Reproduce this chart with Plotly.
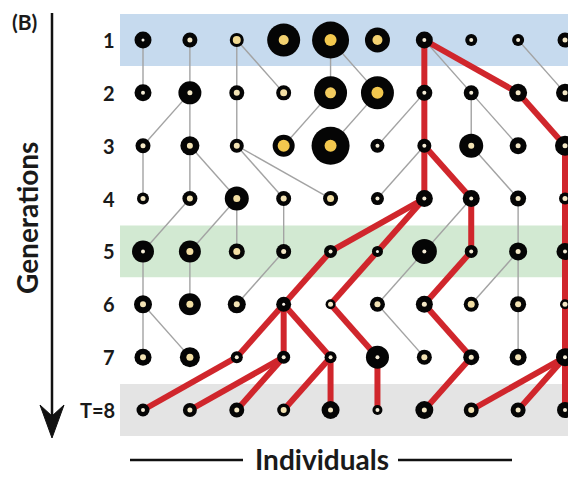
import plotly.graph_objects as go

# ---------------- data ----------------
generations = [1, 2, 3, 4, 5, 6, 7, 8]
gen_labels = ["1", "2", "3", "4", "5", "6", "7", "T=8"]
individuals = [1, 2, 3, 4, 5, 6, 7, 8, 9, 10]

# parent (individual index in previous generation) of each individual, per generation
parents_g2 = [1, 2, 3, 3, 5, 5, 7, 7, 7, 9]
parents_g3 = [2, 2, 3, 5, 6, 7, 7, 8, 8, 9]
parents_g4 = [1, 2, 2, 3, 3, 7, 7, 7, 8, 10]
parents_g5 = [2, 3, 3, 4, 7, 7, 8, 8, 9, 10]
parents_g6 = [1, 2, 4, 5, 6, 7, 8, 9, 9, 10]
parents_g7 = [1, 1, 4, 4, 4, 5, 6, 7, 9, 10]
parents_g8 = [3, 4, 4, 5, 5, 6, 8, 10, 10, 10]
parents = [parents_g2, parents_g3, parents_g4, parents_g5, parents_g6, parents_g7, parents_g8]

# outer (black) circle size per generation row
outer_g1 = [17, 15, 14, 33, 37, 25, 17, 12, 12, 15]
outer_g2 = [17, 23, 15, 15, 33, 33, 16, 15, 18, 18]
outer_g3 = [15, 19, 14, 22, 38, 14, 14, 24, 17, 20]
outer_g4 = [12, 15, 24, 15, 15, 13, 17, 17, 16, 12]
outer_g5 = [22, 22, 16, 15, 13, 11, 25, 13, 18, 17]
outer_g6 = [18, 22, 18, 15, 10, 15, 17, 15, 16, 10]
outer_g7 = [17, 20, 12, 13, 12, 23, 15, 16, 17, 18]
outer_g8 = [13, 14, 15, 13, 18, 10, 18, 15, 15, 16]
outer = [outer_g1, outer_g2, outer_g3, outer_g4, outer_g5, outer_g6, outer_g7, outer_g8]

# inner (yellow) circle size per generation row
inner_g1 = [3, 5, 8, 10, 12, 10, 4, 4, 4, 5]
inner_g2 = [4, 5, 6, 7, 11, 12, 4, 4, 5, 5]
inner_g3 = [5, 6, 6, 12, 12, 4, 4, 6, 5, 5]
inner_g4 = [5, 6, 7, 6, 7, 4, 4, 4, 5, 5]
inner_g5 = [4, 7, 7, 5, 4, 3, 4, 4, 5, 4]
inner_g6 = [6, 7, 6, 3, 5, 6, 5, 7, 6, 5]
inner_g7 = [6, 7, 4, 4, 4, 4, 6, 5, 6, 4]
inner_g8 = [4, 5, 5, 6, 5, 4, 5, 6, 5, 4]
inner = [inner_g1, inner_g2, inner_g3, inner_g4, inner_g5, inner_g6, inner_g7, inner_g8]

highlight_rows = {1: "#c6daee", 5: "#d2e9d2", 8: "#e4e4e4"}

# ---------------- ancestry (red) ----------------
ngen = len(generations)
anc = {ngen: set(individuals)}
for g in range(ngen, 1, -1):
    anc[g - 1] = {parents[g - 2][i - 1] for i in anc[g]}

gx, gy, rx, ry = [], [], [], []
for g in range(2, ngen + 1):
    for i in individuals:
        p = parents[g - 2][i - 1]
        if i in anc[g]:
            rx += [p, i, None]; ry += [g - 1, g, None]
        else:
            gx += [p, i, None]; gy += [g - 1, g, None]

nx, ny, no, ni = [], [], [], []
for g in generations:
    for i in individuals:
        nx.append(i); ny.append(g)
        no.append(outer[g - 1][i - 1]); ni.append(inner[g - 1][i - 1])

fig = go.Figure()
fig.add_trace(go.Scatter(x=gx, y=gy, mode="lines",
                         line=dict(color="#a3a3a3", width=1.4), hoverinfo="skip"))
fig.add_trace(go.Scatter(x=rx, y=ry, mode="lines",
                         line=dict(color="#d0262c", width=6), hoverinfo="skip"))
fig.add_trace(go.Scatter(x=nx, y=ny, mode="markers",
                         marker=dict(size=no, color="#050505", opacity=1, line=dict(width=0)),
                         hoverinfo="skip"))
fig.add_trace(go.Scatter(x=nx, y=ny, mode="markers",
                         marker=dict(size=ni, color=ni, cmin=3, cmax=12, opacity=1,
                                     line=dict(width=0),
                                     colorscale=[[0, "#f6f2e8"], [0.4, "#f2e0aa"], [1, "#f3c84e"]]),
                         hoverinfo="skip"))

# ---------------- geometry (reference-pixel based; page body has an 8px margin) ----------------
OFF = 8
W, H = 576 - OFF, 477 - OFF
x_left_px = 120
col_px = 46.89
row_px = 52.857
x0 = 1 - (143 - x_left_px) / col_px
x1 = x0 + (576 - x_left_px) / col_px
y_top = 1 - (40 - OFF) / row_px
y_bot = y_top + H / row_px


def px(x):
    return (x - OFF) / W


def py(y):
    return 1 - (y - OFF) / H


shapes = []
for g, c in highlight_rows.items():
    shapes.append(dict(type="rect", xref="x domain", yref="y", x0=0, x1=1,
                       y0=g - 0.49, y1=g + 0.49, fillcolor=c, line=dict(width=0), layer="below"))

# vertical arrow
shapes.append(dict(type="line", xref="paper", yref="paper", x0=px(52), x1=px(52),
                   y0=py(13), y1=py(420), line=dict(color="#111", width=2.5)))
shapes.append(dict(type="path", xref="paper", yref="paper",
                   path=f"M {px(52)} {py(438)} L {px(40)} {py(405)} L {px(52)} {py(416)} L {px(64)} {py(405)} Z",
                   fillcolor="#111", line=dict(color="#111", width=1)))
# lines beside "Individuals"
for a, b in [(130, 243), (398, 512)]:
    shapes.append(dict(type="line", xref="paper", yref="paper", x0=px(a), x1=px(b),
                       y0=py(460), y1=py(460), line=dict(color="#111", width=2.5)))

font = "Lato"
annotations = []
for g, lab in zip(generations, gen_labels):
    annotations.append(dict(x=px(117), y=g, xref="paper", yref="y", text=lab, showarrow=False,
                            xanchor="right", yanchor="middle",
                            font=dict(family=font, size=20, color="#1a1a1a", weight="bold")))
annotations.append(dict(x=px(11), y=1, xref="paper", yref="paper", text="(B)", showarrow=False,
                        xanchor="left", yanchor="top", borderpad=0,
                        font=dict(family=font, size=21, color="#1a1a1a", weight="bold")))
annotations.append(dict(x=px(27), y=py(218), xref="paper", yref="paper", text="Generations",
                        showarrow=False, textangle=-90, xanchor="center", yanchor="middle",
                        font=dict(family=font, size=28, color="#1a1a1a", weight="bold")))
annotations.append(dict(x=px(322), y=py(459), xref="paper", yref="paper", text="Individuals",
                        showarrow=False, xanchor="center", yanchor="middle",
                        font=dict(family=font, size=28, color="#1a1a1a", weight="bold")))

fig.update_layout(
    width=W, height=H, margin=dict(l=0, r=0, t=0, b=0),
    paper_bgcolor="white", plot_bgcolor="white", showlegend=False,
    xaxis=dict(domain=[(x_left_px - OFF) / W, 1], range=[x0, x1], visible=False, fixedrange=True),
    yaxis=dict(domain=[0, 1], range=[y_bot, y_top], visible=False, fixedrange=True),
    shapes=shapes, annotations=annotations,
)

fig.write_html("out.html")
